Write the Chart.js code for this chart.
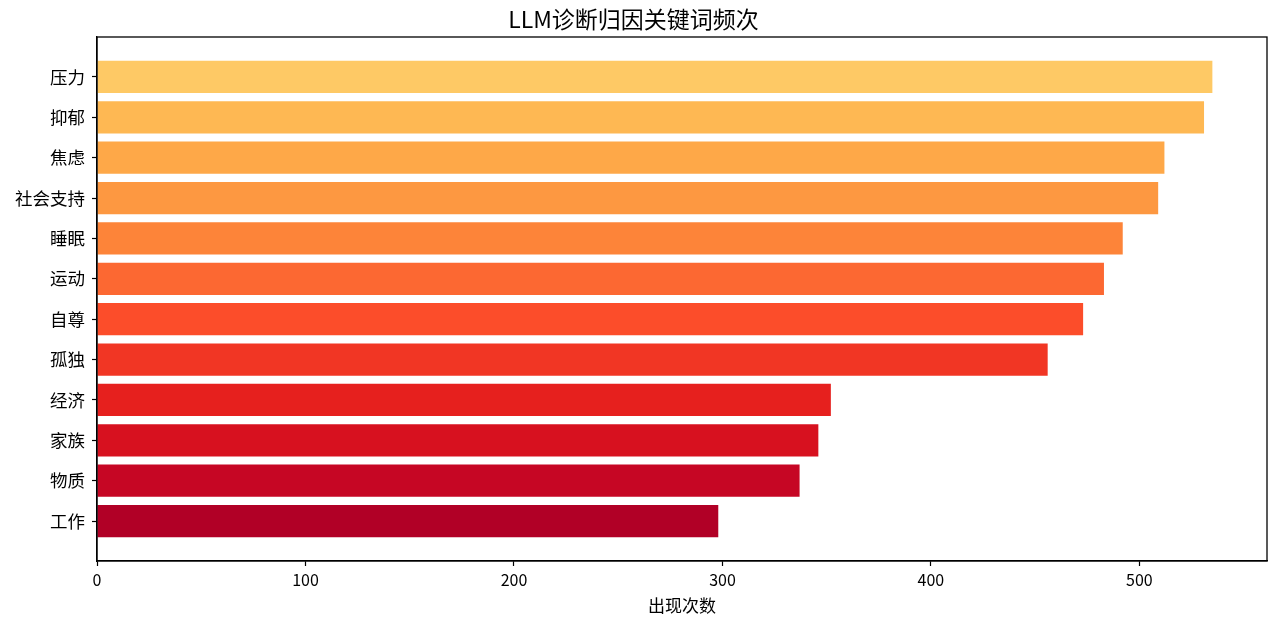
<!DOCTYPE html>
<html>
<head>
<meta charset="utf-8">
<script src="https://cdn.jsdelivr.net/npm/chart.js@4"></script>
<style>
  html, body { margin: 0; padding: 0; background: #fff; }
  #wrap { width: 1280px; height: 621px; }
</style>
</head>
<body>
<div id="wrap"><canvas id="chart" width="1280" height="621"></canvas></div>
<script>
const categories = ['压力', '抑郁', '焦虑', '社会支持', '睡眠', '运动', '自尊', '孤独', '经济', '家族', '物质', '工作'];
const counts = [535, 531, 512, 509, 492, 483, 473, 456, 352, 346, 337, 298];
const xTicks = [0, 100, 200, 300, 400, 500];

// YlOrRd sampled light -> dark
const colors = [
    'rgb(254,201,101)', 'rgb(254,184,83)', 'rgb(254,168,72)', 'rgb(253,152,65)',
    'rgb(253,132,57)', 'rgb(252,104,50)', 'rgb(252,77,42)', 'rgb(241,54,36)',
    'rgb(230,32,30)', 'rgb(215,17,31)', 'rgb(198,6,36)', 'rgb(177,0,38)'
];

const FONT = '"Noto Sans CJK SC", "Noto Sans", sans-serif';

const frame = {
    id: 'frame',
    afterDraw(chart) {
        const a = chart.chartArea;
        const ctx = chart.ctx;
        ctx.save();
        ctx.strokeStyle = '#000';
        ctx.lineWidth = 1.3;
        ctx.strokeRect(a.left, a.top, a.right - a.left, a.bottom - a.top);
        ctx.restore();
    }
};

const ctx = document.getElementById('chart').getContext('2d');
new Chart(ctx, {
    type: 'bar',
    data: {
        datasets: [{
            label: '出现次数',
            data: counts.map((v, i) => ({ x: v, y: i })),
            backgroundColor: colors,
            borderWidth: 0,
            barPercentage: 0.8,
            categoryPercentage: 1.0,
        }],
    },
    options: {
        indexAxis: 'y',
        responsive: false,
        animation: false,
        devicePixelRatio: 1,
        layout: { padding: { left: 0, right: 13, top: 0, bottom: 0 } },
        plugins: {
            legend: { display: false },
            tooltip: { enabled: false },
            title: {
                display: true,
                text: 'LLM诊断归因关键词频次',
                color: '#000',
                font: { family: FONT, size: 23, weight: 'normal', lineHeight: 1.2 },
                padding: { top: 5, bottom: 4.4 },
            },
        },
        scales: {
            x: {
                type: 'linear',
                min: 0,
                max: 561.2,
                afterBuildTicks: (scale) => { scale.ticks = xTicks.map(v => ({ value: v })); },
                afterFit: (scale) => { scale.height = 60; },
                grid: { drawOnChartArea: false, color: '#000', tickLength: 5, tickWidth: 1.2 },
                border: { color: '#000', width: 1.3 },
                ticks: { color: '#000', padding: 4, maxRotation: 0, font: { family: FONT, size: 16 } },
                title: {
                    display: true,
                    text: '出现次数',
                    color: '#000',
                    font: { family: FONT, size: 17 },
                    padding: { top: 4, bottom: 5 },
                },
            },
            y: {
                type: 'linear',
                reverse: true,
                offset: false,
                min: -0.99,
                max: 11.99,
                afterBuildTicks: (scale) => { scale.ticks = categories.map((_, i) => ({ value: i })); },
                afterFit: (scale) => { scale.width = 97; },
                grid: { offset: false, drawOnChartArea: false, color: '#000', tickLength: 5, tickWidth: 1.2 },
                border: { color: '#000', width: 1.3 },
                ticks: {
                    color: '#000',
                    padding: 7,
                    font: { family: FONT, size: 17.5 },
                    callback: (v) => categories[v],
                },
            },
        },
    },
    plugins: [frame],
});
</script>
</body>
</html>
